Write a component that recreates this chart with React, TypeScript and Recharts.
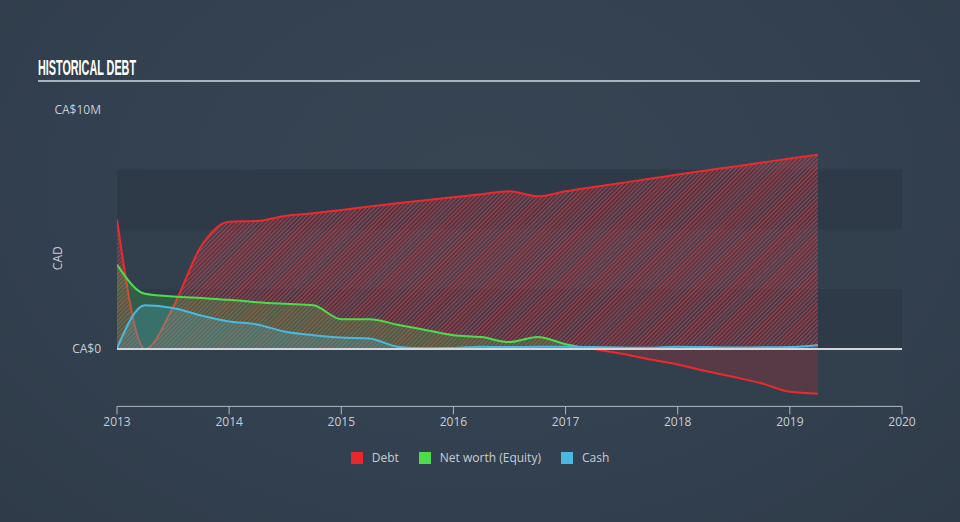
import React from 'react';
import { AreaChart, Area, XAxis, YAxis, ReferenceArea, ReferenceLine, Legend } from 'recharts';

// Quarter positions (decimal years)
const quarters = [
  2013, 2013.25, 2013.5, 2013.75, 2014, 2014.25, 2014.5, 2014.75,
  2015, 2015.25, 2015.5, 2015.75, 2016, 2016.25, 2016.5, 2016.75,
  2017, 2017.25, 2017.5, 2017.75, 2018, 2018.25, 2018.5, 2018.75,
  2019, 2019.25,
];

// Values in CA$ millions
const debt = [
  5.42, 0, 1.75, 4.3, 5.33, 5.36, 5.57, 5.68,
  5.82, 5.96, 6.1, 6.22, 6.35, 6.48, 6.6, 6.39,
  6.6, 6.78, 6.95, 7.12, 7.3, 7.47, 7.63, 7.8,
  7.97, 8.13,
];

const equity: (number | null)[] = [
  3.53, 2.31, 2.2, 2.13, 2.06, 1.96, 1.89, 1.83,
  1.25, 1.25, 1.02, 0.8, 0.58, 0.5, 0.29, 0.5,
  0.2, 0, null, null, null, null, null, null,
  null, null,
];

const equityNegative: (number | null)[] = [
  null, null, null, null, null, null, null, null,
  null, null, null, null, null, null, null, null,
  null, 0, -0.2, -0.43, -0.65, -0.92, -1.17, -1.44,
  -1.79, -1.87,
];

const cash = [
  0.03, 1.83, 1.72, 1.4, 1.15, 1.03, 0.72, 0.58,
  0.48, 0.44, 0.1, 0.03, 0.04, 0.1, 0.08, 0.1,
  0.1, 0.08, 0.06, 0.05, 0.1, 0.08, 0.06, 0.07,
  0.08, 0.17,
];

const yearTicks = [2013, 2014, 2015, 2016, 2017, 2018, 2019, 2020];
const valueTicks = [0, 10];

const legendItems = [
  { label: 'Debt', color: '#e8282c' },
  { label: 'Net worth (Equity)', color: '#4cdc4c' },
  { label: 'Cash', color: '#4bb9df' },
];

const data = quarters.map((t, i) => ({
  t,
  debt: debt[i],
  equity: equity[i],
  equityNeg: equityNegative[i],
  cash: cash[i],
}));

const FONT = '"Open Sans", "DejaVu Sans", sans-serif';
const TEXT = '#c9cdd2';

const renderLegend = () => (
  <div style={{ display: 'flex', justifyContent: 'center', fontFamily: FONT, fontSize: 12, color: TEXT, paddingRight: 0 }}>
    {legendItems.map((it) => (
      <div key={it.label} style={{ display: 'flex', alignItems: 'center', margin: '0 10px' }}>
        <span style={{ display: 'inline-block', width: 12, height: 12, background: it.color, marginRight: 9 }} />
        <span>{it.label}</span>
      </div>
    ))}
  </div>
);

export default function App() {
  return (
    <div
      style={{
        position: 'absolute',
        left: 0,
        top: 0,
        width: 960,
        height: 522,
        background: 'radial-gradient(ellipse at 50% 35%, #374553 0%, #334050 60%, #2f3b48 100%)',
        overflow: 'hidden',
      }}
    >
      <svg style={{ position: 'absolute', left: 0, top: 0 }} width={300} height={80}>
        <text
          x={38}
          y={74.5}
          fill="#ffffff"
          fontFamily='"Liberation Sans Narrow", "Liberation Sans", "DejaVu Sans Condensed", sans-serif'
          fontWeight="bold"
          fontSize={22}
          textLength={98}
          lengthAdjust="spacingAndGlyphs"
        >
          HISTORICAL DEBT
        </text>
      </svg>
      <div style={{ position: 'absolute', left: 38, top: 80, width: 882, height: 2, background: '#aab2bb' }} />
      <div style={{ position: 'absolute', left: 0, top: 0 }}>
        <AreaChart
          width={960}
          height={522}
          data={data}
          margin={{ top: 110, right: 58, bottom: 85.6, left: 0 }}
        >
          <defs>
            <pattern id="hatchDebt" patternUnits="userSpaceOnUse" width="3" height="3" patternTransform="rotate(45)">
              <rect x="0" y="0" width="1.5" height="3" fill="#d8404a" fillOpacity="0.68" />
            </pattern>
          </defs>
          <ReferenceArea y1={-2.4} y2={7.5} fill="#323f4d" fillOpacity={1} stroke="none" zIndex={-10} />
          <ReferenceArea y1={5} y2={7.5} fill="#2e3a48" fillOpacity={1} stroke="none" zIndex={-9} />
          <ReferenceArea y1={0} y2={2.5} fill="#2e3a48" fillOpacity={1} stroke="none" zIndex={-9} />
          <XAxis
            dataKey="t"
            type="number"
            domain={[2013, 2020]}
            ticks={yearTicks}
            allowDataOverflow
            height={30}
            axisLine={{ stroke: '#b0b8c0' }}
            tickLine={{ stroke: '#b0b8c0' }}
            tickSize={8}
            tickMargin={3}
            tick={{ fill: TEXT, fontSize: 12, fontFamily: FONT }}
          />
          <YAxis
            type="number"
            domain={[-2.4, 10]}
            ticks={valueTicks}
            allowDataOverflow
            width={117}
            axisLine={false}
            tickLine={false}
            tickSize={6}
            tickMargin={10}
            tick={{ fill: TEXT, fontSize: 12, fontFamily: FONT }}
            tickFormatter={(v: number) => (v === 0 ? 'CA$0' : `CA$${v}M`)}
            label={{ value: 'CAD', angle: -90, position: 'center', dx: -1, fill: TEXT, fontSize: 12, fontFamily: FONT }}
          />
          <Area
            type="monotone"
            dataKey="debt"
            name="Debt"
            stroke="#ec2a2e"
            strokeWidth={2}
            fill="url(#hatchDebt)"
            fillOpacity={1}
            isAnimationActive={false}
            dot={false}
            activeDot={false}
          />
          <Area
            type="monotone"
            dataKey="equity"
            name="Net worth (Equity)"
            stroke="#4cdc4c"
            strokeWidth={2}
            fill="#4cdc4c"
            fillOpacity={0.22}
            isAnimationActive={false}
            dot={false}
            activeDot={false}
          />
          <Area
            type="monotone"
            dataKey="equityNeg"
            name="Net worth negative"
            legendType="none"
            stroke="#ec2a2e"
            strokeWidth={2}
            fill="#e8282c"
            fillOpacity={0.2}
            isAnimationActive={false}
            dot={false}
            activeDot={false}
          />
          <Area
            type="monotone"
            dataKey="cash"
            name="Cash"
            stroke="#4bb9df"
            strokeWidth={2}
            fill="#4bb9df"
            fillOpacity={0.22}
            isAnimationActive={false}
            dot={false}
            activeDot={false}
          />
          <ReferenceLine y={0} stroke="#d3d7db" strokeWidth={2} />
          <Legend
            layout="horizontal"
            verticalAlign="middle"
            align="center"
            content={renderLegend}
            wrapperStyle={{ top: 449, left: 0, width: 960 }}
          />
        </AreaChart>
      </div>
    </div>
  );
}
